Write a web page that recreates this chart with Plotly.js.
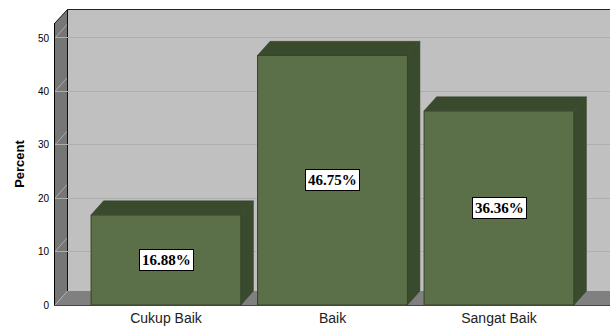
<!DOCTYPE html>
<html>
<head>
<meta charset="utf-8">
<script src="https://cdn.plot.ly/plotly-3.0.1.min.js"></script>
<style>html,body{margin:0;padding:0;background:#fff;}#chart{width:610px;height:327px;}</style>
</head>
<body>
<div id="chart"></div>
<script>
// ---- data ----
const categories = ['Cukup Baik', 'Baik', 'Sangat Baik'];
const percents = [16.88, 46.75, 36.36];
const yTicks = [0, 10, 20, 30, 40, 50];

// ---- geometry (pixels) ----
const W = 610, H = 327;
const FRONT_L = 55, FLOOR_Y = 305, FRONT_TOP = 23;
const DX = 12.5, DY = 14;
const BACK_TOP = 9.5;
const K = 5.34;               // pixels per percent
const X_MIN = -2 / 3, X_MAX = 8 / 3;
const XPPU = (W - FRONT_L) / (X_MAX - X_MIN);
const BAR_W = 0.9;

const dxu = DX / XPPU, dyu = DY / K;
const idx = categories.map((c, i) => i);

const frontColor = '#5b7049', darkColor = '#3a4a2c', edgeColor = '#34422a';

const traces = [];
// back-plane helper trace so x2/y2 exist
traces.push({x: [], y: [], xaxis: 'x2', yaxis: 'y2', type: 'scatter', hoverinfo: 'skip', showlegend: false});

traces.push({
  type: 'bar', x: idx, y: percents, width: BAR_W,
  marker: {color: frontColor, line: {color: edgeColor, width: 1}},
  hoverinfo: 'skip', showlegend: false
});

idx.forEach((i) => {
  const v = percents[i];
  const xl = i - BAR_W / 2, xr = i + BAR_W / 2;
  traces.push({
    type: 'scatter', mode: 'lines', fill: 'toself', fillcolor: darkColor,
    line: {color: edgeColor, width: 0.5},
    x: [xr, xr + dxu, xr + dxu, xr, xr], y: [0, dyu, v + dyu, v, 0],
    hoverinfo: 'skip', showlegend: false
  });
  traces.push({
    type: 'scatter', mode: 'lines', fill: 'toself', fillcolor: darkColor,
    line: {color: edgeColor, width: 0.5},
    x: [xl, xl + dxu, xr + dxu, xr, xl], y: [v, v + dyu, v + dyu, v, v],
    hoverinfo: 'skip', showlegend: false
  });
});

const annotations = idx.map((i) => ({
  x: i, y: percents[i] / 2, xref: 'x', yref: 'y',
  text: '<b>' + percents[i].toFixed(2) + '%</b>',
  showarrow: false, bgcolor: '#ffffff', bordercolor: '#000000', borderwidth: 1, borderpad: 2,
  font: {family: 'Liberation Serif, Times New Roman, serif', size: 15, color: '#000'}
}));

const P = (px, py) => (px / W).toFixed(5) + ',' + (1 - py / H).toFixed(5);
const shapes = [];
// back wall
shapes.push({type: 'rect', xref: 'paper', yref: 'paper', layer: 'below',
  x0: (FRONT_L + DX) / W, x1: 1, y0: 1 - (FLOOR_Y - DY) / H, y1: 1 - BACK_TOP / H,
  fillcolor: '#c0c0c0', line: {width: 0}});
// floor
shapes.push({type: 'path', xref: 'paper', yref: 'paper', layer: 'below',
  path: 'M' + P(FRONT_L, FLOOR_Y) + 'L' + P(FRONT_L + DX, FLOOR_Y - DY) + 'L' + P(W, FLOOR_Y - DY) + 'L' + P(W, FLOOR_Y) + 'Z',
  fillcolor: '#808080', line: {width: 0}});
// left wall
shapes.push({type: 'path', xref: 'paper', yref: 'paper', layer: 'below',
  path: 'M' + P(FRONT_L, FLOOR_Y) + 'L' + P(FRONT_L, FRONT_TOP) + 'L' + P(FRONT_L + DX, BACK_TOP) + 'L' + P(FRONT_L + DX, FLOOR_Y - DY) + 'Z',
  fillcolor: '#767676', line: {width: 0}});
// left wall tick diagonals
yTicks.forEach((t) => {
  shapes.push({type: 'line', xref: 'paper', yref: 'paper', layer: 'below',
    x0: FRONT_L / W, y0: 1 - (FLOOR_Y - t * K) / H,
    x1: (FRONT_L + DX) / W, y1: 1 - (FLOOR_Y - DY - t * K) / H,
    line: {color: '#acacac', width: 1}});
});
// outlines
shapes.push({type: 'line', xref: 'paper', yref: 'paper', layer: 'below',
  x0: FRONT_L / W, y0: 1 - FRONT_TOP / H, x1: (FRONT_L + DX) / W, y1: 1 - BACK_TOP / H,
  line: {color: '#111', width: 1}});
shapes.push({type: 'line', xref: 'paper', yref: 'paper', layer: 'below',
  x0: (FRONT_L + DX) / W, y0: 1 - BACK_TOP / H, x1: 1, y1: 1 - BACK_TOP / H,
  line: {color: '#222', width: 1}});
shapes.push({type: 'line', xref: 'paper', yref: 'paper', layer: 'below',
  x0: (FRONT_L + DX) / W, y0: 1 - BACK_TOP / H, x1: (FRONT_L + DX) / W, y1: 1 - (FLOOR_Y - DY) / H,
  line: {color: '#111', width: 1}});

const layout = {
  width: W, height: H,
  margin: {l: 0, r: 0, t: 0, b: 0},
  paper_bgcolor: '#ffffff', plot_bgcolor: 'rgba(0,0,0,0)',
  showlegend: false,
  font: {family: 'Liberation Sans, Arial, sans-serif', color: '#000'},
  xaxis: {
    domain: [FRONT_L / W, 1], range: [X_MIN, X_MAX],
    tickvals: idx, ticktext: categories,
    tickfont: {size: 14, color: '#222'},
    showline: true, linecolor: '#444', linewidth: 1,
    ticks: '', showgrid: false, zeroline: false, fixedrange: true
  },
  yaxis: {
    domain: [1 - FLOOR_Y / H, 1 - FRONT_TOP / H], range: [0, (FLOOR_Y - FRONT_TOP) / K],
    tickvals: yTicks, tickfont: {size: 10, color: '#000'},
    ticks: 'outside', ticklen: 3, tickcolor: 'rgba(0,0,0,0)',
    showline: true, linecolor: '#000', linewidth: 1,
    showgrid: false, zeroline: false, fixedrange: true,
    title: {text: '<b>Percent</b>', font: {size: 13, color: '#000'}, standoff: 10}
  },
  xaxis2: {
    domain: [(FRONT_L + DX) / W, 1], range: [X_MIN, X_MIN + (W - FRONT_L - DX) / XPPU],
    overlaying: 'x', anchor: 'y2', showgrid: false, showticklabels: false, showline: false,
    zeroline: false, ticks: '', fixedrange: true
  },
  yaxis2: {
    domain: [1 - (FLOOR_Y - DY) / H, 1 - BACK_TOP / H], range: [0, (FLOOR_Y - DY - BACK_TOP) / K],
    overlaying: 'y', anchor: 'x2', tickvals: yTicks, showticklabels: false, ticks: '',
    showgrid: true, gridcolor: '#aeaeae', gridwidth: 1, showline: false, zeroline: false, fixedrange: true
  },
  annotations: annotations,
  shapes: shapes
};

Plotly.newPlot('chart', traces, layout, {staticPlot: true, displayModeBar: false});
</script>
</body>
</html>
